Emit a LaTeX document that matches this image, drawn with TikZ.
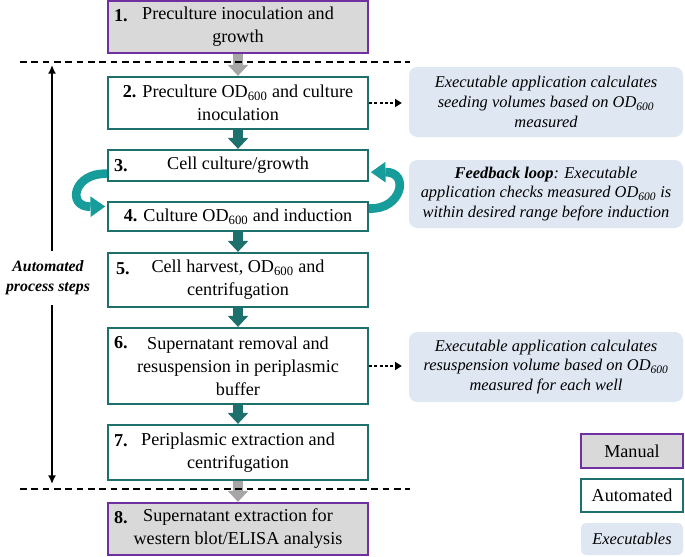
\documentclass[tikz,border=0pt]{standalone}
\usepackage{fontspec}
\setmainfont{LiberationSerif}[Extension=.ttf, UprightFont=*-Regular, BoldFont=*-Bold, ItalicFont=*-Italic, BoldItalicFont=*-BoldItalic]
\usetikzlibrary{arrows.meta}
\definecolor{manualgray}{HTML}{D9D9D9}
\definecolor{manualpurple}{HTML}{7030A0}
\definecolor{autoteal}{HTML}{1E706D}
\definecolor{loopteal}{HTML}{169C9B}
\definecolor{execblue}{HTML}{DEE7F2}
\definecolor{arrowgray}{HTML}{A6A6A6}
\newcommand{\mainsize}{\fontsize{15.5}{19.6}\selectfont}
\newcommand{\execsize}{\fontsize{14}{17}\selectfont}
\newcommand{\odsix}{OD\textsubscript{600}}

\tikzset{
  manualbox/.style={draw=manualpurple, fill=manualgray, line width=2pt, minimum width=7.8cm, inner sep=2pt, align=center, font=\mainsize},
  autobox/.style={draw=autoteal, fill=white, line width=2pt, minimum width=7.8cm, inner sep=2pt, align=center, font=\mainsize},
  execbox/.style={fill=execblue, rounded corners=0.25cm, minimum width=8.22cm, minimum height=2.1cm, inner sep=2pt, align=center, font=\execsize\itshape},
  numlbl/.style={anchor=west, inner sep=0pt, font=\mainsize\bfseries},
  flowarrow/.style={draw=autoteal, line width=0.3cm, -{Triangle[width=0.62cm, length=0.33cm, line width=0pt]}},
  manualarrow/.style={flowarrow, draw=arrowgray},
  looparrow/.style={draw=loopteal, line width=0.26cm, -{Triangle[width=0.62cm, length=0.44cm, line width=0pt]}},
  execarrow/.style={draw=black, line width=2.2pt, dash pattern=on 2.5pt off 2pt, shorten >=0.21cm, -{Triangle[width=0.25cm, length=0.2cm, line width=0pt]}},
  separator/.style={draw=black, line width=1pt, dash pattern=on 0.2cm off 0.14cm},
  sidearrow/.style={draw=black, line width=1.4pt, -{Latex[width=0.24cm, length=0.26cm]}},
}

\begin{document}
\begin{tikzpicture}[x=0.03cm, y=-0.03cm]
    \useasboundingbox (0,0) rectangle (685,556);
    % Process steps
    \node[manualbox, minimum height=1.56cm] (s1) at (238,27) {Preculture inoculation and\\growth};
    \node[autobox, minimum height=1.56cm] (s2) at (238,103) {\textbf{2.} Preculture \odsix{} and culture\\inoculation};
    \node[autobox, minimum height=0.93cm] (s3) at (238,165.5) {Cell culture/growth};
    \node[autobox, minimum height=0.88cm] (s4) at (238,216.5) {\textbf{4.} Culture \odsix{} and induction};
    \node[autobox, minimum height=1.62cm] (s5) at (238,280) {Cell harvest, \odsix{} and\\centrifugation};
    \node[autobox, minimum height=2.28cm] (s6) at (238,366) {Supernatant removal and\\resuspension in periplasmic\\buffer};
    \node[autobox, minimum height=1.65cm] (s7) at (238,452.5) {Periplasmic extraction and\\centrifugation};
    \node[manualbox, minimum height=1.56cm] (s8) at (238,529) {Supernatant extraction for\\western blot/ELISA analysis};
    % Step numbers
    \node[numlbl] at ([xshift=0.21cm, yshift=9.8pt]s1.west) {1.};
    \node[numlbl] at ([xshift=0.21cm]s3.west) {3.};
    \node[numlbl] at ([xshift=0.27cm, yshift=9.8pt]s5.west) {5.};
    \node[numlbl] at ([xshift=0.21cm, yshift=19.6pt]s6.west) {6.};
    \node[numlbl] at ([xshift=0.21cm, yshift=9.8pt]s7.west) {7.};
    \node[numlbl] at ([xshift=0.21cm, yshift=9.8pt]s8.west) {8.};
    % Executables
    \node[execbox] (e1) at (546,102) {Executable application calculates\\seeding volumes based on \odsix\\measured};
    \node[execbox, minimum height=2.04cm] (e2) at (546,194) {\textbf{Feedback loop}: Executable\\application checks measured \odsix{} is\\within desired range before induction};
    \node[execbox] (e3) at (546,367) {Executable application calculates\\resuspension volume based on \odsix\\measured for each well};
    % Legend
    \node[manualbox, minimum width=3.06cm, minimum height=1.02cm] (lman) at (632,451) {Manual};
    \node[autobox, minimum width=3.06cm, minimum height=0.99cm] (lauto) at (632,495.5) {Automated};
    \node[execbox, minimum width=3.06cm, minimum height=0.96cm, rounded corners=0.15cm] (lexec) at (632,539) {Executables};
    % Flow arrows
    \draw[manualarrow] (s1) -- (s2);
    \draw[flowarrow] (s2) -- (s3);
    \draw[flowarrow] (s4) -- (s5);
    \draw[flowarrow] (s5) -- (s6);
    \draw[flowarrow] (s6) -- (s7);
    \draw[manualarrow] (s7) -- (s8);
    % Feedback loop arrows
    \draw[looparrow] ([yshift=-0.25cm]s3.west) .. controls (74,172) and (66,207) .. ([xshift=-0.05cm, yshift=0.3cm]s4.west);
    \draw[looparrow] ([yshift=0.24cm]s4.east) .. controls (402,210) and (410,172) .. ([xshift=0.05cm, yshift=-0.2cm]s3.east);
    % Links to executables
    \draw[execarrow] (s2.east) -- (s2.east -| e1.west);
    \draw[execarrow] (s6.east) -- (s6.east -| e3.west);
    % Manual / automated separators
    \draw[separator] (20,62) -- (410,62);
    \draw[separator] (20,489) -- (410,489);
    % Automated range
    \node[font=\fontsize{13.5}{17}\selectfont\bfseries\itshape, align=center, inner ysep=0.3cm] (autolbl) at (48,278) {Automated\\process steps};
    \coordinate (atop) at (52,65);
    \coordinate (abot) at (52,484);
    \draw[sidearrow] (atop |- autolbl.north) -- (atop);
    \draw[sidearrow] (abot |- autolbl.south) -- (abot);
\end{tikzpicture}
\end{document}
